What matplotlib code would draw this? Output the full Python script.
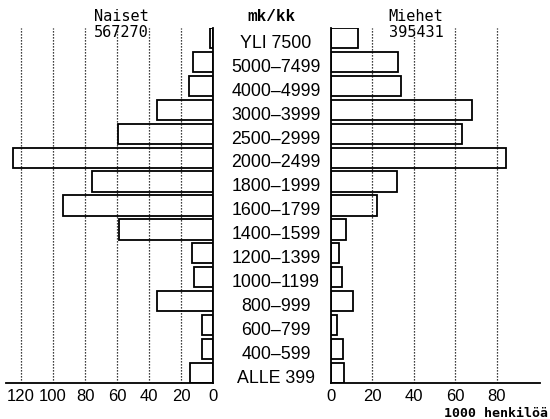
import matplotlib
matplotlib.use('Agg')
import matplotlib.pyplot as plt
from matplotlib.transforms import blended_transform_factory

# Tulonsaajat tuloluokittain (1000 henkilöä)
categories = ["YLI 7500", "5000–7499", "4000–4999", "3000–3999", "2500–2999",
              "2000–2499", "1800–1999", "1600–1799", "1400–1599", "1200–1399",
              "1000–1199", "800–999", "600–799", "400–599", "ALLE 399"]
naiset = [2, 12.3, 15, 35.2, 59.2, 124.8, 75.8, 94, 58.5, 13.3, 11.7, 34.8, 6.7, 7, 14.2]
miehet = [13.3, 32.3, 33.9, 68.3, 63.5, 84.3, 32.1, 22.2, 7.2, 4.2, 5.6, 10.7, 3.2, 5.9, 6.4]
ticks_naiset = [120, 100, 80, 60, 40, 20, 0]
ticks_miehet = [0, 20, 40, 60, 80]

W, H = 550, 419
fig = plt.figure(figsize=(W / 100, H / 100), dpi=100)
fig.patch.set_facecolor('white')

sans = 'Liberation Sans'
mono = 'DejaVu Sans Mono'

top, bottom = 28, 383
ax_l = fig.add_axes([6 / W, 1 - bottom / H, (213 - 6) / W, (bottom - top) / H])
ax_r = fig.add_axes([330.7 / W, 1 - bottom / H, (540 - 330.7) / W, (bottom - top) / H])

rows = list(range(len(categories)))

for ax, vals, ticks, xlim in [(ax_l, naiset, ticks_naiset, (129.4, 0)),
                              (ax_r, miehet, ticks_miehet, (0, 100.9))]:
    for t in ticks:
        if t != 0:
            ax.axvline(t, color='black', lw=0.9, ls=(0, (1, 1.4)), zorder=1)
    ax.barh(rows, vals, height=0.85, facecolor='none', edgecolor='black',
            linewidth=1.3, zorder=2)
    ax.set_xlim(*xlim)
    ax.set_ylim(14.425, -0.425)
    ax.set_xticks(ticks)
    ax.set_xticklabels([str(t) for t in ticks], fontfamily=sans, fontsize=12)
    ax.tick_params(axis='x', length=0, pad=4)
    ax.set_yticks([])
    for s in ax.spines.values():
        s.set_linewidth(1.3)
    ax.spines['top'].set_visible(False)
    ax.set_facecolor('none')

ax_l.spines['left'].set_visible(False)
ax_r.spines['right'].set_visible(False)

# luokkien nimet keskelle
trans = blended_transform_factory(fig.transFigure, ax_l.transData)
for i, c in enumerate(categories):
    ax_l.text(276 / W, i + 0.41, c, transform=trans, ha='center', va='baseline',
              fontfamily=sans, fontsize=12.8, clip_on=False)

fig.text(271 / W, 1 - 21 / H, "mk/kk", ha='center', va='baseline',
         fontfamily='Liberation Mono', fontweight='bold', fontsize=11.5)
fig.text(121 / W, 1 - 20.7 / H, "Naiset", ha='center', va='baseline',
         fontfamily=mono, fontsize=11)
fig.text(121 / W, 1 - 37 / H, "567270", ha='center', va='baseline',
         fontfamily=mono, fontsize=11)
fig.text(416 / W, 1 - 20.7 / H, "Miehet", ha='center', va='baseline',
         fontfamily=mono, fontsize=11)
fig.text(416 / W, 1 - 37 / H, "395431", ha='center', va='baseline',
         fontfamily=mono, fontsize=11)
fig.text(548 / W, 1 - 417 / H, "1000 henkilöä", ha='right', va='baseline',
         fontfamily=mono, fontweight='bold', fontsize=9.5)

fig.savefig('out.png', dpi=100)
